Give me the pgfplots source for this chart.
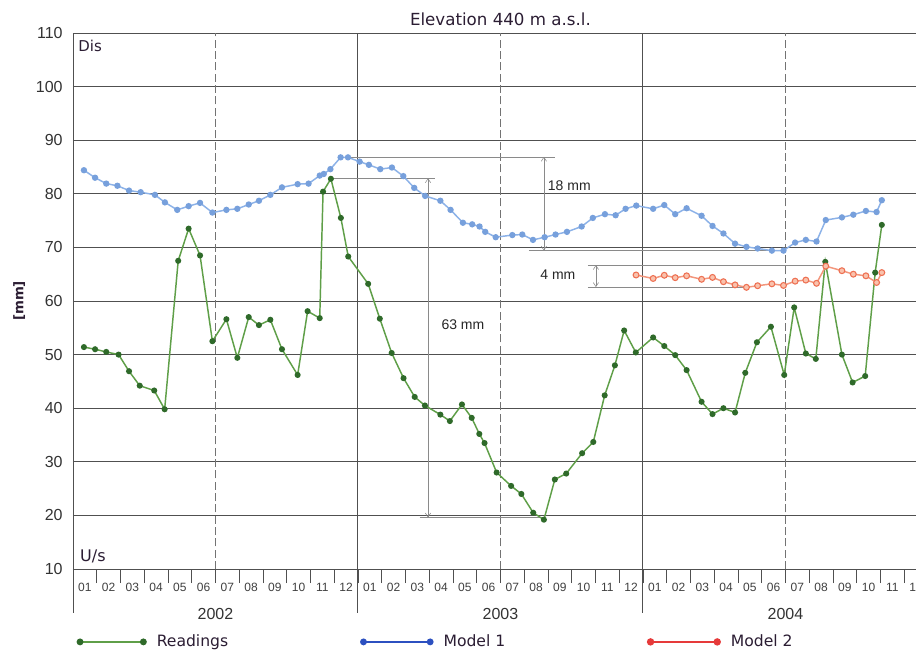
\documentclass[border=0pt]{standalone}
\usepackage{pgfplots}
\pgfplotsset{compat=1.18}
\usepackage{fontspec}
\setmainfont{Liberation Sans}
\newfontfamily\dejavu{DejaVu Sans}
\usetikzlibrary{arrows.meta}
\definecolor{gridc}{HTML}{505050}
\definecolor{annc}{HTML}{8A8A8A}
\definecolor{txtc}{HTML}{2B1D33}
\definecolor{readline}{HTML}{5F9F48}
\definecolor{readmark}{HTML}{2F6A2A}
\definecolor{mAline}{HTML}{8CB2E8}
\definecolor{mAmark}{HTML}{77A0DC}
\definecolor{mBline}{HTML}{F3967C}
\definecolor{mBmark}{HTML}{EE7052}
\definecolor{mBfill}{HTML}{F9C2AD}
\definecolor{legA}{HTML}{2C50C0}
\definecolor{legB}{HTML}{E63A3A}

\pgfplotstableread{
x y
0.46 51.4
0.93 51.0
1.40 50.5
1.92 50.0
2.36 46.9
2.81 44.2
3.42 43.3
3.86 39.8
4.43 67.5
4.87 73.5
5.35 68.5
5.87 52.5
6.46 56.6
6.92 49.4
7.40 57.0
7.83 55.5
8.31 56.5
8.80 51.0
9.46 46.2
9.88 58.1
10.39 56.8
10.53 80.4
10.86 82.8
11.28 75.5
11.59 68.3
12.43 63.2
12.92 56.7
13.42 50.3
13.92 45.6
14.39 42.1
14.82 40.5
15.47 38.8
15.87 37.6
16.38 40.7
16.79 38.2
17.11 35.2
17.33 33.5
17.84 28.0
18.45 25.5
18.88 24.0
19.38 20.5
19.83 19.2
20.29 26.7
20.77 27.8
21.44 31.6
21.91 33.7
22.39 42.4
22.82 48.0
23.21 54.5
23.70 50.4
24.43 53.2
24.90 51.6
25.36 49.9
25.84 47.1
26.47 41.2
26.93 38.9
27.39 40.0
27.88 39.2
28.31 46.6
28.80 52.3
29.39 55.2
29.95 46.2
30.37 58.8
30.86 50.2
31.28 49.2
31.68 67.3
32.38 50.0
32.83 44.8
33.36 46.0
33.78 65.3
34.06 74.2
}\readings

\pgfplotstableread{
x y
0.46 84.4
0.93 83.0
1.40 81.9
1.87 81.5
2.36 80.6
2.85 80.3
3.45 79.8
3.87 78.4
4.39 77.0
4.87 77.7
5.35 78.3
5.87 76.5
6.46 77.0
6.92 77.2
7.40 78.0
7.83 78.7
8.31 79.8
8.80 81.2
9.46 81.8
9.92 81.9
10.39 83.4
10.56 83.7
10.84 84.6
11.27 86.8
11.58 86.8
12.07 86.0
12.46 85.4
12.94 84.6
13.43 84.9
13.91 83.3
14.37 81.1
14.83 79.6
15.47 78.7
15.90 77.0
16.42 74.6
16.81 74.3
17.12 73.9
17.36 72.9
17.80 71.9
18.50 72.3
18.92 72.4
19.37 71.4
19.86 71.9
20.32 72.4
20.80 72.9
21.42 73.9
21.89 75.5
22.40 76.2
22.85 76.0
23.27 77.2
23.72 77.8
24.43 77.2
24.90 77.9
25.36 76.2
25.84 77.3
26.47 75.9
26.93 74.0
27.39 72.6
27.88 70.7
28.36 70.1
28.83 69.8
29.43 69.4
29.92 69.4
30.41 70.9
30.86 71.4
31.31 71.1
31.70 75.1
32.38 75.6
32.86 76.1
33.39 76.8
33.84 76.6
34.06 78.8
}\modelA

\pgfplotstableread{
x y
23.71 64.85
24.43 64.2
24.90 64.8
25.36 64.35
25.84 64.7
26.47 64.05
26.93 64.4
27.39 63.6
27.88 63.0
28.36 62.55
28.83 62.85
29.43 63.2
29.92 62.9
30.41 63.7
30.86 63.9
31.31 63.3
31.70 66.5
32.38 65.65
32.86 65.0
33.39 64.7
33.84 63.45
34.06 65.3
}\modelB

\begin{document}
\begin{tikzpicture}
\useasboundingbox (0,0) rectangle (687pt,489.75pt);
\clip (0,0) rectangle (687pt,489.75pt);
\fill[white] (0,0) rectangle (687pt,489.75pt);
\begin{axis}[
  at={(54.75pt,63pt)}, anchor=south west,
  scale only axis, width=632.25pt, height=402pt,
  xmin=0, xmax=35.5, ymin=10, ymax=110,
  clip=false,
  axis x line*=bottom, axis y line*=left,
  axis line style={gridc, line width=0.6pt},
  ytick={10,20,...,110},
  ymajorgrids, grid style={gridc, line width=0.6pt},
  major tick length=0pt,
  yticklabel style={font=\fontsize{12}{14}\selectfont, text=black!80, xshift=-4.25pt,
    /pgf/number format/assume math mode=true},
  xtick={0.5,1.5,...,35.5},
  xticklabels={01,02,03,04,05,06,07,08,09,10,11,12,01,02,03,04,05,06,07,08,09,10,11,12,01,02,03,04,05,06,07,08,09,10,11,12},
  xticklabel style={font=\fontsize{9}{10}\selectfont, text=black!75, anchor=center, yshift=-13.5pt},
  extra x ticks={1,2,...,35},
  extra x tick labels={},
  extra x tick style={major tick length=10.5pt, tick align=outside, grid=none,
    tick style={gridc, line width=0.6pt}},
  legend columns=3,
  legend style={at={(0.004,-0.136)}, anchor=west, draw=none, fill=none, inner sep=0pt,
    column sep=5.5pt, font=\dejavu\fontsize{11.7}{14}\selectfont, text=txtc},
]
% vertical grid
\draw[gridc, line width=0.7pt] (axis cs:0,1.8) -- (axis cs:0,10);
\draw[gridc, line width=0.7pt] (axis cs:12,1.8) -- (axis cs:12,110);
\draw[gridc, line width=0.7pt] (axis cs:24,1.8) -- (axis cs:24,110);
\foreach \m in {6,18,30}{
  \edef\tmp{\noexpand\draw[gridc!80, line width=0.45pt, dash pattern=on 6pt off 2.5pt] (axis cs:\m,10) -- (axis cs:\m,110);}\tmp
}
% annotations
\draw[annc, line width=0.4pt] (axis cs:11.24,86.9) -- (axis cs:20.3,86.9);
\draw[annc, line width=0.4pt] (axis cs:19.2,69.4) -- (axis cs:30.0,69.4);
\draw[annc, line width=0.4pt, {Straight Barb[length=3pt,width=4pt]}-{Straight Barb[length=3pt,width=4pt]}] (axis cs:19.83,86.9) -- (axis cs:19.83,69.4);
\node[font=\fontsize{10.5}{12}\selectfont, text=black!85] at (axis cs:20.9,81.5) {18 mm};
\draw[annc, line width=0.4pt] (axis cs:21.68,66.7) -- (axis cs:31.7,66.7);
\draw[annc, line width=0.4pt] (axis cs:21.68,62.6) -- (axis cs:28.4,62.6);
\draw[annc, line width=0.4pt, {Straight Barb[length=3pt,width=4pt]}-{Straight Barb[length=3pt,width=4pt]}] (axis cs:22.02,66.7) -- (axis cs:22.02,62.6);
\node[font=\fontsize{10.5}{12}\selectfont, text=black!85] at (axis cs:20.42,65.0) {4 mm};
\draw[annc, line width=0.4pt] (axis cs:10.86,82.9) -- (axis cs:15.24,82.9);
\draw[annc, line width=0.4pt] (axis cs:14.6,19.6) -- (axis cs:19.87,19.6);
\draw[annc, line width=0.4pt, {Straight Barb[length=3pt,width=4pt]}-{Straight Barb[length=3pt,width=4pt]}] (axis cs:14.95,82.9) -- (axis cs:14.95,19.6);
\node[font=\fontsize{10.5}{12}\selectfont, text=black!85] at (axis cs:16.42,55.5) {63 mm};
% texts
\node[font=\dejavu\fontsize{12.5}{15}\selectfont, text=txtc] at (axis cs:18,112.5) {Elevation 440 m a.s.l.};
\node[font=\dejavu\fontsize{11.2}{13}\selectfont, text=txtc, anchor=west, inner sep=0pt] at (axis cs:0.22,107.6) {Dis};
\node[font=\dejavu\fontsize{12}{14}\selectfont, text=txtc, anchor=west, inner sep=0pt] at (axis cs:0.29,12.3) {U/s};
\node[font=\dejavu\bfseries\fontsize{10}{12}\selectfont, text=txtc, rotate=90] at (axis cs:-2.27,60) {[mm]};
\node[font=\fontsize{12}{14}\selectfont, text=black!80] at (axis cs:6,1.6) {2002};
\node[font=\fontsize{12}{14}\selectfont, text=black!80] at (axis cs:18,1.6) {2003};
\node[font=\fontsize{12}{14}\selectfont, text=black!80] at (axis cs:30,1.6) {2004};
% data
\addplot[readline, line width=1.1pt, mark=*, mark size=1.7pt, mark options={fill=readmark, draw=readmark},
  legend image code/.code={\draw[readline, line width=1.2pt] (0pt,0pt) -- (47.5pt,0pt);
    \fill[readmark] (0pt,0pt) circle (2pt) (47.5pt,0pt) circle (2pt);}]
  table[x=x,y=y] {\readings};
\addlegendentry{\makebox[145pt][l]{Readings}}
\addplot[mAline, line width=1.1pt, mark=*, mark size=1.8pt, mark options={fill=mAmark, draw=mAmark},
  legend image code/.code={\draw[legA, line width=1.2pt] (0pt,0pt) -- (50pt,0pt);
    \fill[legA] (0pt,0pt) circle (2pt) (50pt,0pt) circle (2pt);}]
  table[x=x,y=y] {\modelA};
\addlegendentry{\makebox[145pt][l]{Model 1}}
\addplot[mBline, line width=1.1pt, mark=*, mark size=2.2pt, mark options={fill=mBfill, draw=mBmark, line width=0.8pt},
  legend image code/.code={\draw[legB, line width=1.2pt] (0pt,0pt) -- (50pt,0pt);
    \fill[legB] (0pt,0pt) circle (2.2pt) (50pt,0pt) circle (2.2pt);}]
  table[x=x,y=y] {\modelB};
\addlegendentry{\makebox[145pt][l]{Model 2}}
\end{axis}
\end{tikzpicture}
\end{document}
